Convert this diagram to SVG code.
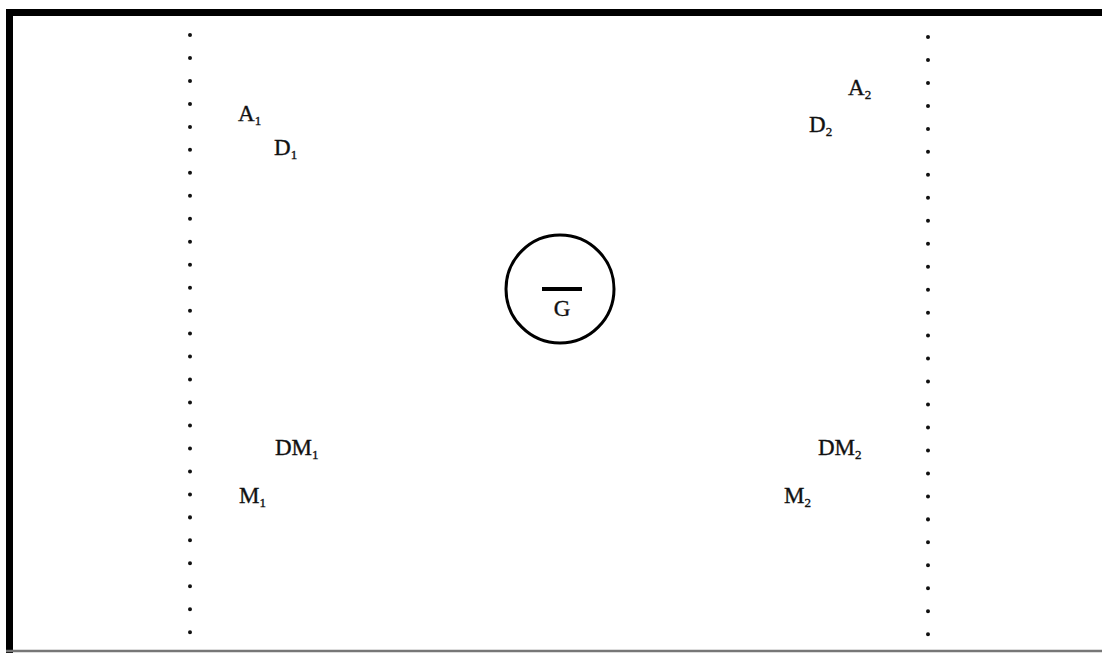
<svg xmlns="http://www.w3.org/2000/svg" width="1102" height="653" viewBox="0 0 1102 653">
<style>
.lbl{font-family:"Liberation Serif","Times New Roman",serif;font-size:23px;fill:#111;stroke:#111;stroke-width:0.35}
.sub{font-size:13px}
.dots{stroke:#111;stroke-width:4;stroke-linecap:round;stroke-dasharray:0.01 22.96;fill:none}
</style>
<rect x="0" y="0" width="1102" height="653" fill="#fff"/>
<g id="frame">
<path d="M9.5,653 V12.5 H1102" fill="none" stroke="#000" stroke-width="7"/>
<line x1="6" y1="651" x2="1102" y2="651" stroke="#777" stroke-width="2.5"/>
</g>
<g id="boundaries">
<line class="dots" x1="190" y1="35" x2="190" y2="640"/>
<line class="dots" x1="928" y1="37" x2="928" y2="640"/>
</g>
<g id="node-G">
<circle cx="560" cy="289" r="54" fill="none" stroke="#000" stroke-width="3"/>
<rect x="542" y="287" width="40" height="4" fill="#000"/>
<text class="lbl" x="562" y="316" text-anchor="middle" font-size="18" stroke-width="0">G</text>
</g>
<g id="node-A1"><text class="lbl" x="238" y="121">A<tspan class="sub" dy="4">1</tspan></text></g>
<g id="node-D1"><text class="lbl" x="274" y="155">D<tspan class="sub" dy="4">1</tspan></text></g>
<g id="node-A2"><text class="lbl" x="848" y="95">A<tspan class="sub" dy="4">2</tspan></text></g>
<g id="node-D2"><text class="lbl" x="809" y="132">D<tspan class="sub" dy="4">2</tspan></text></g>
<g id="node-DM1"><text class="lbl" x="275" y="455">DM<tspan class="sub" dy="4">1</tspan></text></g>
<g id="node-M1"><text class="lbl" x="239" y="503">M<tspan class="sub" dy="4">1</tspan></text></g>
<g id="node-DM2"><text class="lbl" x="818" y="455">DM<tspan class="sub" dy="4">2</tspan></text></g>
<g id="node-M2"><text class="lbl" x="784" y="503">M<tspan class="sub" dy="4">2</tspan></text></g>
</svg>
